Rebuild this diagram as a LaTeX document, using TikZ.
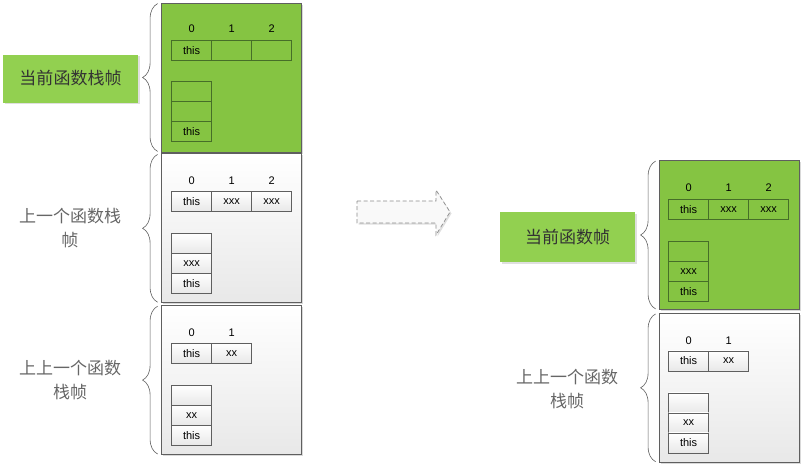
\documentclass[tikz,border=0pt]{standalone}
\usepackage{fontspec}
\setmainfont{Liberation Sans}
\newfontfamily\cjk{Noto Sans CJK SC}
\usetikzlibrary{calc,positioning,shadows,decorations.pathreplacing}

\definecolor{framegreen}{RGB}{133,196,66}
\definecolor{labelgreen}{RGB}{146,208,80}
\definecolor{edgegray}{RGB}{95,95,95}
\definecolor{cellgreen}{RGB}{70,110,40}

\tikzset{
  stackbox/.style={draw=edgegray, line width=0.8pt, minimum width=140, minimum height=149, inner sep=0,
    drop shadow={shadow xshift=1.5pt, shadow yshift=-1.5pt, opacity=0.3}},
  greenbox/.style={stackbox, fill=framegreen},
  graybox/.style={stackbox, top color=white, bottom color=gray!18},
  cell/.style={draw=edgegray, line width=0.6pt, minimum width=40, minimum height=20, inner sep=0,
    top color=white, bottom color=gray!18, font=\fontsize{11}{12}\selectfont},
  gcell/.style={cell, draw=cellgreen, top color=framegreen, bottom color=framegreen},
  idx/.style={font=\fontsize{11}{12}\selectfont},
  namebox/.style={fill=labelgreen, minimum width=135, minimum height=48, inner sep=0,
    text=black!80, font=\cjk\fontsize{17}{24}\selectfont,
    drop shadow={shadow xshift=1.5pt, shadow yshift=-1.5pt, opacity=0.25}},
  nametext/.style={align=center, text=black!60, font=\cjk\fontsize{17}{24}\selectfont},
  framebrace/.style={draw=edgegray, line width=0.6pt, decorate, decoration={brace, amplitude=15pt}}
}

\begin{document}
\begin{tikzpicture}[x=1pt,y=-1pt]
\useasboundingbox (0,0) rectangle (805,469);

% ---- before the call ----
\node[greenbox] (L1) at (231,77.5) {};
\node[graybox, below=1pt of L1] (L2) {};
\node[graybox, below=2pt of L2] (L3) {};

\foreach \t [count=\i from 0] in {this,{},{}} {
  \node[gcell] (L1a\i) at ($(L1.north west)+(31+40*\i,48)$) {\t};
  \node[idx] at ($(L1.north west)+(31+40*\i,26)$) {\i};
}
\foreach \t [count=\j from 0] in {{},{},this}
  \node[gcell] (L1s\j) at ($(L1.north west)+(31,89+20*\j)$) {\t};

\foreach \t [count=\i from 0] in {this,xxx,xxx} {
  \node[cell] (L2a\i) at ($(L2.north west)+(31+40*\i,48)$) {\t};
  \node[idx] at ($(L2.north west)+(31+40*\i,27)$) {\i};
}
\foreach \t [count=\j from 0] in {{},xxx,this}
  \node[cell] (L2s\j) at ($(L2.north west)+(31,90+20*\j)$) {\t};

\foreach \t [count=\i from 0] in {this,xx} {
  \node[cell] (L3a\i) at ($(L3.north west)+(31+40*\i,48)$) {\t};
  \node[idx] at ($(L3.north west)+(31+40*\i,28)$) {\i};
}
\foreach \t [count=\j from 0] in {{},xx,this}
  \node[cell] (L3s\j) at ($(L3.north west)+(31,90+20*\j)$) {\t};

% braces and names
\draw[framebrace] ([xshift=-3pt,yshift=1pt]L1.south west) -- ([xshift=-3pt,yshift=-1pt]L1.north west);
\draw[framebrace] ([xshift=-3pt,yshift=1pt]L2.south west) -- ([xshift=-3pt,yshift=-1pt]L2.north west);
\draw[framebrace] ([xshift=-3pt,yshift=1pt]L3.south west) -- ([xshift=-3pt,yshift=-1pt]L3.north west);

\node[namebox] (n1) at (70.5,78.5) {当前函数栈帧};
\node[nametext] (n2) at (70,228) {上一个函数栈\\帧};
\node[nametext] (n3) at (70,380) {上上一个函数\\栈帧};

% big arrow
\draw[dash pattern=on 4pt off 2.5pt, draw=gray!90, fill=gray!5, line width=0.7pt,
  drop shadow={shadow xshift=1.5pt, shadow yshift=-1.5pt, opacity=0.25}]
  (357,201) -- (436,201) -- (436,190) -- (450,212) -- (436,235) -- (436,223) -- (357,223) -- cycle;

% ---- after the return ----
\node[greenbox] (R1) at (729,235) {};
\node[graybox, below=3pt of R1] (R2) {};

\foreach \t [count=\i from 0] in {this,xxx,xxx} {
  \node[gcell] (R1a\i) at ($(R1.north west)+(30+40*\i,49)$) {\t};
  \node[idx] at ($(R1.north west)+(30+40*\i,28)$) {\i};
}
\foreach \t [count=\j from 0] in {{},xxx,this}
  \node[gcell] (R1s\j) at ($(R1.north west)+(30,91+20*\j)$) {\t};

\foreach \t [count=\i from 0] in {this,xx} {
  \node[cell] (R2a\i) at ($(R2.north west)+(30+40*\i,48)$) {\t};
  \node[idx] at ($(R2.north west)+(30+40*\i,28)$) {\i};
}
\foreach \t [count=\j from 0] in {{},xx,this}
  \node[cell] (R2s\j) at ($(R2.north west)+(30,90+20*\j)$) {\t};

\draw[framebrace] ([xshift=-3pt,yshift=1pt]R1.south west) -- ([xshift=-3pt,yshift=-1pt]R1.north west);
\draw[framebrace] ([xshift=-3pt,yshift=1pt]R2.south west) -- ([xshift=-3pt,yshift=-1pt]R2.north west);

\node[namebox, minimum height=50] (m1) at (567.5,237) {当前函数帧};
\node[nametext] (m2) at (567,389) {上上一个函数\\栈帧};
\end{tikzpicture}
\end{document}
